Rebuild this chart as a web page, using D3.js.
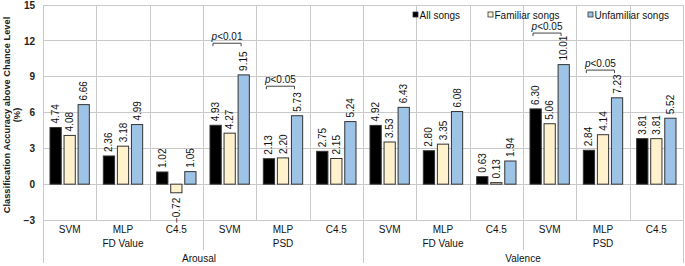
<!DOCTYPE html>
<html>
<head>
<meta charset="utf-8">
<script src="https://cdn.jsdelivr.net/npm/d3@7"></script>
<style>
  html, body { margin: 0; padding: 0; background: #fff; }
  svg { display: block; font-family: "Liberation Sans", Arial, sans-serif; }
</style>
</head>
<body>
<svg id="chart" width="685" height="266"></svg>
<script>
// ---- data ----
const classifiers = ["SVM", "MLP", "C4.5"];
const features = ["FD Value", "PSD"];
const dimensions = ["Arousal", "Valence"];
const seriesNames = ["All songs", "Familiar songs", "Unfamiliar songs"];
const allSongs        = [4.74, 2.36, 1.02, 4.93, 2.13, 2.75, 4.92, 2.80, 0.63, 6.30, 2.84, 3.81];
const familiarSongs   = [4.08, 3.18, -0.72, 4.27, 2.20, 2.15, 3.53, 3.35, 0.13, 5.06, 4.14, 3.81];
const unfamiliarSongs = [6.66, 4.99, 1.05, 9.15, 5.73, 5.24, 6.43, 6.08, 1.94, 10.01, 7.23, 5.52];
const yTicks = [-3, 0, 3, 6, 9, 12, 15];
const sigCategory = [3, 4, 9, 10];
const sigLabel = ["<0.01", "<0.05", "<0.05", "<0.05"];
const sigLevel = [11.8, 8.2, 12.65, 9.55];

// ---- build ----
const categories = [];
dimensions.forEach(dm => features.forEach(f => classifiers.forEach(c => categories.push({dim: dm, feat: f, cls: c}))));
const seriesValues = [allSongs, familiarSongs, unfamiliarSongs];
const colors = ["#000000", "#FFF2CC", "#9DC3E6"];

const svg = d3.select("#chart");
const L = 43, R = 683, T = 5, B = 220;
const y = d3.scaleLinear().domain([-3, 15]).range([B, T]);
const x = d3.scaleBand().domain(d3.range(categories.length)).range([L, R]).padding(0);
const xs = d3.scaleBand().domain(d3.range(3)).range([7, x.bandwidth() - 7]).paddingInner(0.2);

const grid = "#C9C9C9";
// horizontal gridlines
svg.append("g").selectAll("line").data(yTicks).join("line")
  .attr("x1", L).attr("x2", R).attr("y1", d => y(d)).attr("y2", d => y(d))
  .attr("stroke", grid).attr("stroke-width", 1).attr("shape-rendering", "crispEdges");
// vertical category lines
svg.append("g").selectAll("line").data(d3.range(categories.length + 1)).join("line")
  .attr("x1", i => Math.round(L + i * x.step()) + 0.5).attr("x2", i => Math.round(L + i * x.step()) + 0.5)
  .attr("y1", T)
  .attr("y2", i => (i % 6 === 0) ? 263 : (i % 3 === 0 ? 250 : B))
  .attr("stroke", grid).attr("stroke-width", 1);

// y axis
const yAxis = d3.axisLeft(y).tickValues(yTicks).tickSize(0).tickPadding(8);
const ya = svg.append("g").attr("transform", `translate(${L},0)`).call(yAxis);
ya.select(".domain").remove();
ya.selectAll("text").attr("font-size", 10).attr("font-weight", "bold").attr("fill", "#222")
  .attr("font-family", "'Liberation Sans', Arial, sans-serif");

// y title
const yt = svg.append("text").attr("transform", `translate(9.5,115) rotate(-90)`)
  .attr("text-anchor", "middle").attr("font-size", 9.3).attr("font-weight", "bold").attr("fill", "#222");
yt.append("tspan").attr("x", 0).attr("dy", 0).text("Classification Accuracy above Chance Level");
yt.append("tspan").attr("x", 0).attr("dy", 10.5).text("(%)");

// bars
const fmt = d3.format(".2f");
seriesValues.forEach((vals, s) => {
  const g = svg.append("g");
  g.selectAll("rect").data(vals).join("rect")
    .attr("x", (v, i) => x(i) + xs(s))
    .attr("width", xs.bandwidth())
    .attr("y", v => y(Math.max(0, v)))
    .attr("height", v => Math.abs(y(v) - y(0)))
    .attr("fill", colors[s]).attr("stroke", "#333").attr("stroke-width", 1);
  g.selectAll("text").data(vals).join("text")
    .attr("transform", (v, i) => {
      const cx = x(i) + xs(s) + xs.bandwidth() / 2;
      const yy = v >= 0 ? y(v) - 4 : y(v) + 5;
      return `translate(${cx},${yy}) rotate(-90)`;
    })
    .attr("text-anchor", v => v >= 0 ? "start" : "end")
    .attr("dy", "0.35em")
    .attr("font-size", 10).attr("fill", "#111")
    .text(v => fmt(v));
});

// significance brackets
sigCategory.forEach((c, k) => {
  const x1 = x(c) + xs(0) + 3, x2 = x(c) + xs(2) + 3, yy = y(sigLevel[k]);
  svg.append("path").attr("d", `M${x1},${yy + 3}V${yy}H${x2}V${yy + 3}`)
    .attr("fill", "none").attr("stroke", "#444").attr("stroke-width", 1);
  const t = svg.append("text").attr("x", (x1 + x2) / 2).attr("y", yy - 3)
    .attr("text-anchor", "middle").attr("font-size", 10).attr("fill", "#111");
  t.append("tspan").attr("font-style", "italic").text("p");
  t.append("tspan").text(sigLabel[k]);
});

// category labels
svg.append("g").selectAll("text").data(categories).join("text")
  .attr("x", (d, i) => x(i) + x.bandwidth() / 2).attr("y", 233)
  .attr("text-anchor", "middle").attr("font-size", 10).attr("fill", "#111")
  .text(d => d.cls);
// feature labels
const featGroups = d3.range(4);
svg.append("g").selectAll("text").data(featGroups).join("text")
  .attr("x", g => L + (g * 3 + 1.5) * x.step()).attr("y", 247)
  .attr("text-anchor", "middle").attr("font-size", 10).attr("fill", "#111")
  .text(g => features[g % 2]);
// dimension labels
svg.append("g").selectAll("text").data(dimensions).join("text")
  .attr("x", (d, g) => L + (g * 6 + 3) * x.step() - (g === 0 ? 4 : 0)).attr("y", 262)
  .attr("text-anchor", "middle").attr("font-size", 10).attr("fill", "#111")
  .text(d => d);

// legend
const legX = [413, 488, 588];
const lg = svg.append("g");
seriesNames.forEach((n, s) => {
  lg.append("rect").attr("x", legX[s]).attr("y", 12).attr("width", 5).attr("height", 5)
    .attr("fill", colors[s]).attr("stroke", "#333").attr("stroke-width", 0.8);
  lg.append("text").attr("x", legX[s] + 6.5).attr("y", 18.5).attr("font-size", 10).attr("fill", "#111").text(n);
});
</script>
</body>
</html>
